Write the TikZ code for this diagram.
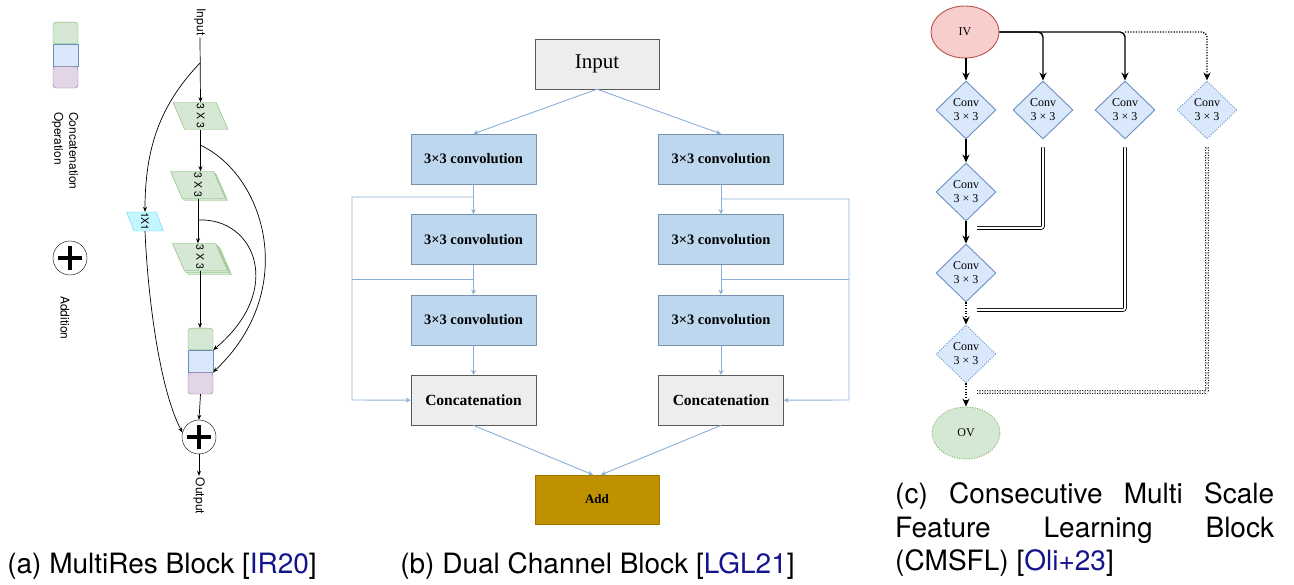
\documentclass[tikz,border=0pt]{standalone}
\usepackage{fontspec}
\setmainfont{TeX Gyre Heros}
\newfontfamily\timesfont{Liberation Serif}
\usetikzlibrary{positioning}
\usetikzlibrary{calc}
\usetikzlibrary{shapes.geometric}
\usetikzlibrary{shadows}
\usetikzlibrary{arrows.meta}

\definecolor{cgreen}{RGB}{213,232,212}
\definecolor{cgreenline}{RGB}{130,179,102}
\definecolor{cblue}{RGB}{218,232,252}
\definecolor{cblueline}{RGB}{108,142,191}
\definecolor{cpurple}{RGB}{225,213,231}
\definecolor{cpurpleline}{RGB}{150,115,166}
\definecolor{ccyan}{RGB}{195,246,255}
\definecolor{ccyanline}{RGB}{95,215,245}
\definecolor{convfill}{RGB}{189,215,238}
\definecolor{convline}{RGB}{120,145,175}
\definecolor{boxfill}{RGB}{237,237,237}
\definecolor{boxline}{RGB}{90,90,90}
\definecolor{addfill}{RGB}{191,144,0}
\definecolor{flow}{RGB}{140,175,215}
\definecolor{ivfill}{RGB}{248,206,204}
\definecolor{ivline}{RGB}{184,84,80}
\definecolor{citeblue}{RGB}{20,20,140}

\begin{document}
\begin{tikzpicture}[
    x=1pt, y=-1pt,
    sans/.style={font=\fontsize{12}{15}\selectfont, inner sep=2pt},
    small/.style={font=\fontsize{10.5}{12}\selectfont, inner sep=1pt},
    para/.style={trapezium, trapezium left angle=110, trapezium right angle=70, trapezium stretches=true,
        draw=cgreenline, fill=cgreen, minimum width=55pt, minimum height=27pt, inner sep=1pt},
    catg/.style={rectangle, draw=cgreenline, fill=cgreen, minimum width=25pt, minimum height=21.7pt, inner sep=0pt, rounded corners=3pt},
    catb/.style={rectangle, draw=cblueline, fill=cblue, minimum width=25pt, minimum height=21.7pt, inner sep=0pt},
    catp/.style={rectangle, draw=cpurpleline, fill=cpurple, minimum width=25pt, minimum height=21.7pt, inner sep=0pt, rounded corners=3pt},
    plus/.style={circle, draw, fill=white, minimum size=34pt, inner sep=0pt},
    thin arrow/.style={draw, line width=0.7pt, -{Stealth[length=5pt, width=4pt]}},
    inbox/.style={rectangle, draw=boxline, fill=boxfill, minimum width=124pt, minimum height=50pt, font=\timesfont\fontsize{21}{24}\selectfont},
    conv/.style={rectangle, draw=convline, fill=convfill, minimum width=125pt, minimum height=50pt, font=\timesfont\bfseries\fontsize{14.5}{17}\selectfont},
    catbox/.style={rectangle, draw=boxline, fill=boxfill, minimum width=125pt, minimum height=50pt, font=\timesfont\bfseries\fontsize{15.5}{18}\selectfont},
    flowline/.style={draw=flow, line width=0.9pt},
    flow arrow/.style={draw=flow, line width=0.9pt, -{Stealth[length=5pt, width=5pt]}},
    dia/.style={diamond, draw=cblueline, fill=cblue, line width=0.9pt, minimum width=60pt, minimum height=58pt, inner sep=0pt,
        align=center, font=\timesfont\fontsize{12}{14}\selectfont},
    dotdia/.style={dia, dash pattern=on 1pt off 1.5pt},
    conn/.style={draw, line width=1.4pt, -{Stealth[length=8pt, width=7pt]}},
    dotconn/.style={conn, dash pattern=on 1.2pt off 1.5pt},
    dbl/.style={draw, line width=0.8pt, double, double distance=2pt, rounded corners=2pt},
    dbldot/.style={dbl, dash pattern=on 1pt off 1.5pt},
    caption/.style={font=\fontsize{28}{33.5}\selectfont, inner sep=0pt}
]
\useasboundingbox (0,0) rectangle (1294,585);

% (a) MultiRes block: legend
\node[catg] (lg1) at (65.5,33) {};
\node[catb, below=0pt of lg1] (lg2) {};
\node[catp, below=0pt of lg2] (lg3) {};
\node[sans, rotate=-90, anchor=west, align=left] (lgcat) at (65,110) {Concatenation\\Operation};
\node[plus] (lgadd) at (70,258) {};
\draw[line width=4pt] ($(lgadd)+(-12,0)$) -- ($(lgadd)+(12,0)$);
\draw[line width=4pt] ($(lgadd)+(0,-12)$) -- ($(lgadd)+(0,12)$);
\node[sans, rotate=-90, anchor=west] (lgaddtxt) at (65,294) {Addition};

% (a) MultiRes block: nodes
\node[sans, rotate=-90] (in) at (200,22) {Input};
\node[para] (p1) at (200.5,116) {\phantom{x}};
\node[small, rotate=-90] at (p1) {3 X 3};
\node[para, copy shadow={shadow xshift=2pt, shadow yshift=-2pt}] (p2) at (198,185) {\phantom{x}};
\node[small, rotate=-90] at (p2) {3 X 3};
\node[para, double copy shadow={shadow xshift=2pt, shadow yshift=-2pt}] (p3) at (200,257) {\phantom{x}};
\node[small, rotate=-90] at (p3) {3 X 3};
\node[para, draw=ccyanline, fill=ccyan, trapezium left angle=108, trapezium right angle=72,
    minimum width=37pt, minimum height=19pt] (one) at (145,221.5) {\phantom{x}};
\node[small, rotate=-90] at (one) {1X1};
\node[catg] (cat1) at (200.5,339) {};
\node[catb, below=0pt of cat1] (cat2) {};
\node[catp, below=0pt of cat2] (cat3) {};
\node[plus] (add) at (199,437) {};
\draw[line width=4pt] ($(add)+(-12,0)$) -- ($(add)+(12,0)$);
\draw[line width=4pt] ($(add)+(0,-12)$) -- ($(add)+(0,12)$);
\node[sans, rotate=-90] (out) at (199,496) {Output};

% (a) MultiRes block: connectors
\coordinate (s0) at (200,63);
\coordinate (s1) at (200,145);
\coordinate (s2) at (199,220);
\draw[thin arrow] (in.east) -- (p1.north);
\draw[thin arrow] (p1.south) -- (p1.south |- p2.north);
\draw[thin arrow] (p2.south) -- (p2.south |- p3.north);
\draw[thin arrow] (p3.south) -- (p3.south |- cat1.north);
\draw[thin arrow] (cat3.south) -- (add.north);
\draw[thin arrow] (add.south) -- (out.west);
\draw[thin arrow] (s0) .. controls (165,100) and (145,140) .. (one.north);
\draw[thin arrow] (one.south) .. controls (148,300) and (160,390) .. (add.165);
\draw[thin arrow] (s1) .. controls (265,175) and (300,290) .. (cat2.south east);
\draw[thin arrow] (s2) .. controls (255,218) and (285,290) .. (cat1.south east);

% (b) Dual channel block: nodes
\node[inbox] (inp) at (597,64) {Input};
\node[conv] (l1) at (473.5,159) {3×3 convolution};
\node[conv, below=30pt of l1] (l2) {3×3 convolution};
\node[conv, below=30pt of l2] (l3) {3×3 convolution};
\node[catbox, below=30pt of l3] (lcat) {Concatenation};
\node[conv] (r1) at (721,159) {3×3 convolution};
\node[conv, below=30pt of r1] (r2) {3×3 convolution};
\node[conv, below=30pt of r2] (r3) {3×3 convolution};
\node[catbox, below=30pt of r3] (rcat) {Concatenation};
\node[rectangle, fill=addfill, draw=addfill!85!black, minimum width=124pt, minimum height=49pt,
    font=\timesfont\bfseries\fontsize{13}{15}\selectfont] (sum) at (597,499.5) {Add};

% (b) Dual channel block: connectors
\draw[flow arrow] (inp.south) -- (l1.north);
\draw[flow arrow] (inp.south) -- (r1.north);
\draw[flow arrow] (l1) -- (l2);
\draw[flow arrow] (l2) -- (l3);
\draw[flow arrow] (l3) -- (lcat);
\draw[flow arrow] (r1) -- (r2);
\draw[flow arrow] (r2) -- (r3);
\draw[flow arrow] (r3) -- (rcat);
\coordinate (la) at (473.5,197);
\coordinate (lb) at (473.5,279);
\coordinate (lc) at (352,400);
\coordinate (ra) at (721,199);
\coordinate (rb) at (721,279);
\coordinate (rc) at (849,400);
\draw[flow arrow] (la) -| (lc) -- (lcat.west);
\draw[flowline] (lb) -- (lb -| lc);
\draw[flow arrow] (ra) -| (rc) -- (rcat.east);
\draw[flowline] (rb) -- (rb -| rc);
\draw[flow arrow] (lcat.south) -- ([xshift=-4pt]sum.north);
\draw[flow arrow] (rcat.south) -- ([xshift=4pt]sum.north);

% (c) CMSFL block: nodes
\node[ellipse, draw=ivline, fill=ivfill, line width=0.9pt, minimum width=68pt, minimum height=52pt,
    font=\timesfont\fontsize{12}{14}\selectfont] (iv) at (965,32) {IV};
\node[dia] (d1) at (966,110) {Conv\\3 × 3};
\node[dia] (d2) at (966,192) {Conv\\3 × 3};
\node[dia] (d3) at (966,273) {Conv\\3 × 3};
\node[dotdia] (d4) at (966,354) {Conv\\3 × 3};
\node[ellipse, draw=cgreenline, fill=cgreen, line width=0.9pt, dash pattern=on 1pt off 1.5pt,
    minimum width=68pt, minimum height=52pt, font=\timesfont\fontsize{12}{14}\selectfont] (ov) at (966,433) {OV};
\node[dia] (e2) at (1043,110) {Conv\\3 × 3};
\node[dia] (e3) at (1125,110) {Conv\\3 × 3};
\node[dotdia] (e4) at (1207,110) {Conv\\3 × 3};

% (c) CMSFL block: connectors
\draw[conn] (d1.north |- iv.south) -- (d1.north);
\draw[conn] (d1) -- (d2);
\draw[conn] (d2) -- (d3);
\draw[dotconn] (d3) -- (d4);
\draw[dotconn] (d4) -- (ov);
\draw[conn, rounded corners=5pt] (iv.east) -| (e2.north);
\draw[conn, rounded corners=5pt] (iv.east) -| (e3.north);
\coordinate (bend) at (e3 |- iv);
\draw[dotconn, rounded corners=5pt] (bend) -| (e4.north);
\coordinate (m2) at (977,228);
\coordinate (m3) at (977,310);
\coordinate (m4) at (977,392);
\draw[dbl] ([yshift=-8pt]e2.south) |- (m2);
\draw[dbl] ([yshift=-8pt]e3.south) |- (m3);
\draw[dbldot] ([yshift=-8pt]e4.south) |- (m4);

% captions
\node[caption, anchor=base] (capa) at (162,573) {(a) MultiRes Block [\textcolor{citeblue}{IR20}]};
\node[caption, anchor=base] (capb) at (597.5,573) {(b) Dual Channel Block [\textcolor{citeblue}{LGL21}]};
\node[caption, anchor=north west, align=left] (capc) at (895,482.5) {\makebox[379pt][s]{(c) Consecutive Multi Scale}\\
    \makebox[379pt][s]{Feature Learning Block}\\(CMSFL) [\textcolor{citeblue}{Oli+23}]};

\end{tikzpicture}
\end{document}
